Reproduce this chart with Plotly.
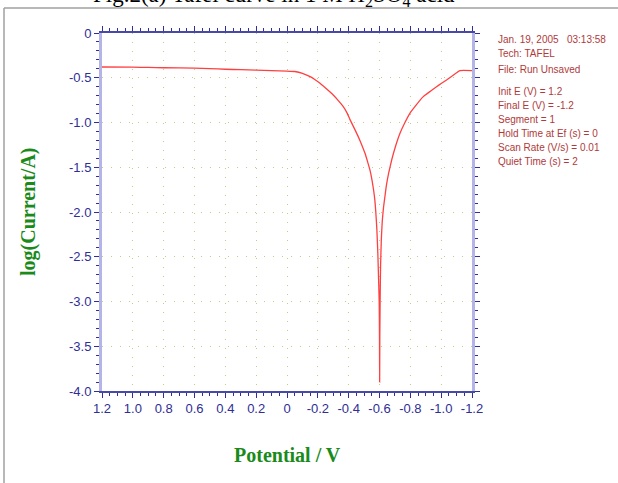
import plotly.graph_objects as go

# Potential (V), scanned from 1.2 to -1.2
potential = [1.2, 1.0, 0.9, 0.8, 0.6, 0.5, 0.4, 0.3, 0.2, 0.1, 0.0, -0.05, -0.10, -0.15, -0.18,
             -0.214, -0.25, -0.30, -0.33, -0.365, -0.39, -0.408, -0.435, -0.462, -0.485, -0.506,
             -0.523, -0.538, -0.552, -0.562, -0.570, -0.576, -0.583, -0.589, -0.594, -0.598,
             -0.600, -0.601, -0.602, -0.604, -0.607, -0.612, -0.618, -0.626, -0.635, -0.645,
             -0.66, -0.679, -0.705, -0.733, -0.765, -0.797, -0.84, -0.884, -0.93, -0.97,
             -1.0, -1.035, -1.08, -1.122, -1.2]
log_current = [-0.38, -0.382, -0.385, -0.388, -0.392, -0.398, -0.405, -0.41, -0.415, -0.42, -0.425, -0.43, -0.45, -0.488, -0.52,
               -0.562, -0.615, -0.693, -0.75, -0.823, -0.895, -0.965, -1.06, -1.158, -1.25, -1.344,
               -1.44, -1.53, -1.65, -1.76, -1.87, -2.0, -2.2, -2.45, -2.75, -3.0,
               -3.4, -3.9, -3.4, -3.0, -2.6, -2.3, -2.1, -1.95, -1.83, -1.70,
               -1.56, -1.419, -1.26, -1.12, -1.0, -0.897, -0.8, -0.711, -0.65, -0.6,
               -0.565, -0.525, -0.47, -0.421, -0.421]

x_ticks = [1.2, 1.0, 0.8, 0.6, 0.4, 0.2, 0.0, -0.2, -0.4, -0.6, -0.8, -1.0, -1.2]
x_labels = ["1.2", "1.0", "0.8", "0.6", "0.4", "0.2", "0", "-0.2", "-0.4", "-0.6", "-0.8", "-1.0", "-1.2"]
y_ticks = [0, -0.5, -1.0, -1.5, -2.0, -2.5, -3.0, -3.5, -4.0]
y_labels = ["0", "-0.5", "-1.0", "-1.5", "-2.0", "-2.5", "-3.0", "-3.5", "-4.0"]

info_lines = ["Jan. 19, 2005   03:13:58", "Tech: TAFEL", "File: Run Unsaved",
              "Init E (V) = 1.2", "Final E (V) = -1.2", "Segment = 1",
              "Hold Time at Ef (s) = 0", "Scan Rate (V/s) = 0.01", "Quiet Time (s) = 2"]
info_y_px = [40, 54, 69, 91, 105, 119, 133, 147, 161]

W, H = 618, 483
L, R, T, B = 102, 472, 33, 391

def px_x(p):
    return (p - L) / (R - L)

def px_y(p):
    return (B - p) / (B - T)

navy = "#2e2e96"
fig = go.Figure()
fig.add_trace(go.Scatter(x=potential, y=log_current, mode="lines",
                         line=dict(color="#ff4040", width=1.3, shape="spline", smoothing=0.4),
                         showlegend=False))

grid_color = "#c9c98a"
fig.update_xaxes(range=[1.2, -1.2], tickvals=x_ticks, ticktext=x_labels,
                 showline=True, linecolor="#4848a8", linewidth=1.5, mirror="allticks",
                 ticks="outside", ticklen=5, tickcolor=navy, tickwidth=1,
                 minor=dict(dtick=0.05, tick0=0, ticks="outside", ticklen=3, tickcolor=navy, showgrid=False),
                 showgrid=True, gridcolor=grid_color, griddash="1px,8px", gridwidth=1,
                 zeroline=False,
                 tickfont=dict(family="Liberation Sans, Arial", size=13, color=navy))
fig.update_yaxes(range=[-4.0, 0], tickvals=y_ticks, ticktext=y_labels,
                 showline=True, linecolor="#b4b4e6", linewidth=3, mirror="allticks",
                 ticks="outside", ticklen=5, tickcolor=navy, tickwidth=1,
                 minor=dict(dtick=0.1, tick0=0, ticks="outside", ticklen=3, tickcolor=navy, showgrid=False),
                 showgrid=True, gridcolor=grid_color, griddash="1px,8px", gridwidth=1,
                 zeroline=False,
                 tickfont=dict(family="Liberation Sans, Arial", size=13, color=navy))

annotations = [
    dict(text="<b>Potential / V</b>", x=px_x(287), y=px_y(455), xref="paper", yref="paper",
         showarrow=False, xanchor="center", yanchor="middle",
         font=dict(family="Liberation Serif, Times New Roman", size=20, color="#1a8a1a")),
    dict(text="<b>log(Current/A)</b>", x=px_x(28), y=px_y(212), xref="paper", yref="paper",
         showarrow=False, xanchor="center", yanchor="middle", textangle=-90,
         font=dict(family="Liberation Serif, Times New Roman", size=20, color="#1a8a1a")),
    dict(text="Fig.2(a) Tafel curve in 1 M H<sub>2</sub>SO<sub>4</sub> acid", x=px_x(274), y=px_y(-3.5),
         xref="paper", yref="paper", showarrow=False, xanchor="center", yanchor="middle",
         font=dict(family="Liberation Serif, Times New Roman", size=23, color="#000000")),
]
for line, yp in zip(info_lines, info_y_px):
    annotations.append(dict(text=line, x=px_x(496), y=px_y(yp), xref="paper", yref="paper",
                            showarrow=False, xanchor="left", yanchor="middle",
                            font=dict(family="Liberation Sans, Arial", size=10, color="#b03a3a")))

shapes = [
    dict(type="line", xref="paper", yref="paper", x0=px_x(4), x1=px_x(620), y0=px_y(8), y1=px_y(8),
         line=dict(color="#a0a0a0", width=1.5)),
    dict(type="line", xref="paper", yref="paper", x0=px_x(4), x1=px_x(4), y0=px_y(8), y1=px_y(490),
         line=dict(color="#a0a0a0", width=1.5)),
]

fig.update_layout(width=W, height=H, margin=dict(l=L, r=W - R, t=T, b=H - B),
                  paper_bgcolor="white", plot_bgcolor="white",
                  annotations=annotations, shapes=shapes, showlegend=False)

fig.write_html("out.html")
